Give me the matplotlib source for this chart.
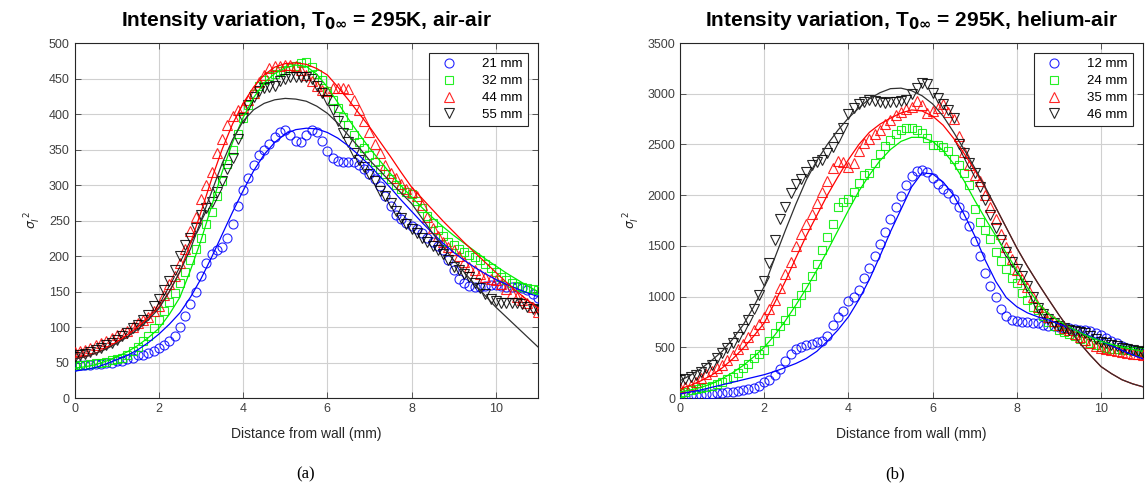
import matplotlib
matplotlib.use('Agg')
import matplotlib.pyplot as plt
import numpy as np

# measurement grid (mm from wall) and grid for the fitted curves
dist = np.arange(89) * 0.125
dist_fit = np.arange(45) * 0.25

# air-air, intensity variance per station
air_21 = [45, 46, 47, 47, 48, 48, 49, 50,
          52, 52, 55, 57, 60, 61, 63, 66,
          70, 75, 80, 88, 100, 115, 132, 150,
          172, 190, 203, 208, 212, 225, 245, 270,
          293, 310, 328, 342, 350, 358, 368, 375,
          377, 370, 362, 360, 370, 377, 375, 362,
          348, 338, 334, 332, 333, 332, 328, 322,
          315, 308, 298, 285, 270, 258, 252, 246,
          242, 238, 232, 226, 220, 214, 208, 195,
          180, 168, 162, 158, 156, 157, 158, 159,
          159, 158, 157, 156, 156, 155, 152, 146,
          141]
air_32 = [45, 46, 47, 48, 49, 50, 51, 53,
          55, 57, 60, 66, 72, 80, 88, 98,
          110, 122, 135, 148, 162, 178, 194, 210,
          225, 245, 262, 285, 305, 330, 350, 372,
          394, 412, 428, 440, 448, 453, 457, 460,
          462, 465, 468, 472, 473, 466, 456, 448,
          432, 420, 408, 396, 385, 370, 360, 352,
          342, 332, 322, 316, 308, 300, 294, 290,
          287, 278, 268, 256, 246, 237, 228, 220,
          215, 210, 206, 202, 198, 194, 189, 183,
          177, 171, 166, 162, 158, 156, 155, 154,
          152]
air_44 = [65, 66, 68, 70, 74, 77, 80, 85,
          89, 92, 95, 100, 105, 110, 114, 122,
          130, 145, 160, 172, 190, 210, 235, 255,
          280, 300, 318, 345, 365, 385, 397, 405,
          410, 420, 430, 445, 455, 465, 468, 468,
          469, 469, 468, 462, 455, 446, 440, 434,
          432, 436, 437, 437, 435, 420, 405, 390,
          375, 358, 345, 328, 317, 310, 302, 295,
          290, 285, 272, 255, 240, 228, 220, 212,
          208, 200, 192, 185, 180, 175, 171, 168,
          166, 160, 154, 148, 142, 138, 134, 128,
          121]
air_55 = [58, 60, 62, 65, 68, 71, 74, 78,
          82, 87, 92, 98, 103, 110, 117, 130,
          140, 152, 165, 180, 200, 215, 225, 240,
          258, 268, 276, 290, 305, 322, 338, 365,
          394, 412, 424, 432, 436, 438, 440, 446,
          450, 452, 452, 452, 452, 450, 440, 430,
          420, 405, 390, 373, 360, 345, 335, 325,
          315, 305, 292, 285, 275, 263, 254, 245,
          238, 232, 226, 220, 214, 208, 203, 195,
          185, 180, 175, 170, 162, 155, 147, 140,
          136, 134, 134, 134, 134, 132, 128, 126,
          124]

# air-air, fitted curves
air_21_fit = [38, 40, 43, 48, 54, 60, 68, 78, 90, 104, 120, 142, 168, 198, 230,
              262, 292, 320, 343, 360, 372, 378, 380, 379, 374, 366, 355, 342,
              328, 312, 296, 279, 263, 247, 232, 218, 205, 194, 184, 175, 167,
              160, 154, 148, 143]
air_32_fit = [42, 44, 47, 52, 58, 65, 74, 85, 98, 118, 142, 180, 222, 270, 318,
              360, 395, 423, 444, 457, 465, 469, 467, 456, 438, 416, 393, 372,
              352, 334, 316, 299, 283, 268, 254, 241, 229, 218, 207, 196, 186,
              176, 167, 158, 150]
air_44_fit = [55, 58, 63, 70, 79, 89, 100, 113, 128, 150, 178, 218, 262, 308, 350,
              386, 415, 438, 455, 466, 471, 472, 470, 464, 455, 438, 420, 401,
              382, 361, 340, 318, 297, 281, 265, 249, 234, 219, 205, 191, 177,
              163, 150, 138, 127]
air_55_fit = [55, 58, 63, 69, 77, 86, 97, 110, 126, 150, 178, 210, 250, 290, 330,
              364, 390, 406, 415, 420, 422, 421, 418, 411, 401, 387, 370, 353,
              335, 320, 304, 289, 274, 253, 232, 213, 194, 177, 160, 144, 128,
              114, 100, 86, 72]

# helium-air, intensity variance per station
he_12 = [20, 22, 25, 28, 32, 36, 40, 45,
         50, 55, 62, 70, 80, 90, 100, 115,
         160, 180, 230, 290, 360, 430, 480, 505,
         522, 535, 548, 560, 610, 720, 800, 860,
         960, 1000, 1060, 1180, 1280, 1400, 1520, 1640,
         1760, 1880, 1990, 2100, 2190, 2240, 2250, 2230,
         2170, 2110, 2060, 2020, 1960, 1880, 1800, 1700,
         1550, 1400, 1230, 1100, 1000, 880, 810, 770,
         755, 750, 745, 740, 735, 720, 710, 705,
         700, 695, 690, 685, 675, 670, 660, 640,
         620, 590, 565, 540, 515, 495, 470, 455,
         440]
he_24 = [50, 60, 75, 85, 95, 105, 120, 140,
         160, 185, 210, 250, 295, 340, 394, 430,
         473, 560, 640, 710, 770, 860, 940, 1020,
         1094, 1200, 1320, 1460, 1590, 1720, 1880, 1930,
         1960, 2030, 2120, 2200, 2220, 2320, 2410, 2480,
         2544, 2600, 2640, 2660, 2660, 2640, 2610, 2560,
         2495, 2495, 2470, 2440, 2360, 2300, 2220, 2100,
         1860, 1740, 1656, 1570, 1440, 1350, 1270, 1180,
         1134, 1040, 966, 900, 868, 810, 750, 710,
         670, 650, 630, 610, 580, 560, 540, 520,
         503, 495, 488, 480, 475, 470, 465, 460,
         455]
he_35 = [100, 110, 130, 160, 200, 240, 265, 300,
         325, 370, 424, 480, 530, 600, 670, 730,
         800, 880, 966, 1080, 1220, 1340, 1500, 1620,
         1720, 1810, 1920, 2030, 2140, 2270, 2340, 2330,
         2280, 2320, 2440, 2510, 2550, 2600, 2640, 2700,
         2740, 2790, 2820, 2850, 2870, 2930, 2890, 2810,
         2830, 2860, 2900, 2820, 2750, 2580, 2430, 2300,
         2200, 2140, 2000, 1880, 1760, 1620, 1490, 1370,
         1262, 1170, 1094, 1000, 897, 850, 800, 760,
         720, 690, 670, 630, 600, 570, 540, 515,
         493, 480, 470, 460, 454, 445, 435, 430,
         424]
he_46 = [177, 190, 207, 230, 260, 296, 330, 390,
         444, 490, 540, 600, 680, 769, 880, 1020,
         1150, 1330, 1560, 1760, 1880, 2020, 2110, 2160,
         2230, 2300, 2330, 2350, 2420, 2470, 2560, 2660,
         2800, 2860, 2900, 2920, 2940, 2930, 2920, 2910,
         2920, 2920, 2930, 2940, 3000, 3060, 3106, 3100,
         3010, 2960, 2900, 2840, 2760, 2500, 2420, 2320,
         2220, 2080, 1950, 1800, 1680, 1560, 1440, 1340,
         1270, 1200, 1100, 1000, 890, 830, 780, 740,
         710, 690, 670, 660, 650, 640, 610, 580,
         552, 540, 525, 510, 495, 480, 470, 460,
         454]

# helium-air, fitted curves
he_12_fit = [40, 60, 80, 105, 130, 155, 180, 205, 230, 262, 300, 340, 390, 460,
             560, 670, 800, 970, 1170, 1400, 1640, 1860, 2080, 2220, 2210, 2130,
             2000, 1810, 1600, 1360, 1150, 990, 900, 840, 800, 770, 730, 690,
             650, 605, 560, 515, 470, 425, 385]
he_24_fit = [60, 80, 105, 140, 190, 250, 320, 405, 500, 620, 760, 915, 1080, 1260,
             1450, 1650, 1850, 2040, 2200, 2340, 2450, 2530, 2570, 2570, 2530,
             2440, 2310, 2140, 1950, 1770, 1600, 1430, 1260, 1090, 940, 830, 760,
             700, 645, 600, 560, 530, 500, 480, 460]
he_35_fit = [90, 125, 170, 225, 296, 385, 490, 610, 740, 940, 1150, 1380, 1600,
             1800, 2000, 2180, 2350, 2500, 2620, 2700, 2760, 2810, 2840, 2830,
             2780, 2690, 2560, 2410, 2250, 2070, 1880, 1680, 1480, 1300, 1134,
             975, 820, 675, 540, 420, 310, 240, 180, 140, 110]
he_46_fit = [170, 225, 290, 370, 460, 580, 720, 900, 1100, 1380, 1650, 1910, 2150,
             2340, 2500, 2640, 2760, 2860, 2950, 3010, 3050, 3055, 3030, 2980,
             2900, 2780, 2620, 2450, 2270, 2080, 1880, 1680, 1480, 1300, 1134,
             975, 820, 675, 540, 420, 310, 240, 180, 140, 110]

air_labels = ['21 mm', '32 mm', '44 mm', '55 mm']
he_labels = ['12 mm', '24 mm', '35 mm', '46 mm']

colors = ['#0000ff', '#00ee00', '#ff0000', '#000000']
fit_colors = ['#0000ff', '#00ee00', '#ff0000', '#303030']
markers = ['o', 's', '^', 'v']
msizes = [6.5, 5.5, 7, 7]

plt.rcParams['font.family'] = ['Liberation Sans', 'DejaVu Sans']
plt.rcParams['mathtext.fontset'] = 'dejavusans'


def draw_panel(ax, series, fits, labels, ymax, ystep, title):
    handles = []
    for k in range(4):
        h, = ax.plot(dist, series[k], linestyle='none', marker=markers[k],
                     ms=msizes[k], mfc='none', mec=colors[k], mew=0.8,
                     alpha=0.85, label=labels[k], zorder=3)
        handles.append(h)
    for k in range(4):
        ax.plot(dist_fit, fits[k], color=fit_colors[k], lw=0.9, zorder=4)

    ax.set_xlim(0, 11)
    ax.set_ylim(0, ymax)
    ax.set_xticks(np.arange(0, 11, 2))
    ax.set_yticks(np.arange(0, ymax + 1, ystep))
    ax.grid(True, color='#d0d0d0', lw=0.8)
    ax.set_axisbelow(True)
    ax.tick_params(direction='in', length=4, width=0.6, colors='#404040',
                   labelsize=9, top=True, right=True)
    for sp in ax.spines.values():
        sp.set_color('#262626')
        sp.set_linewidth(0.8)

    ax.set_xlabel('Distance from wall (mm)', fontsize=10, color='#262626',
                  labelpad=9)
    ax.set_ylabel(r'$\sigma_I^{\ 2}$', fontsize=9, color='#262626', labelpad=4)
    ax.set_title(title, fontsize=15, fontweight='bold', pad=12)

    leg = ax.legend(handles=handles, loc='upper right',
                    bbox_to_anchor=(0.978, 0.972), borderaxespad=0,
                    fancybox=False, framealpha=1, edgecolor='#262626',
                    fontsize=9.5, handlelength=2.2, handletextpad=1.4,
                    labelspacing=0.35, borderpad=0.4)
    leg.get_frame().set_linewidth(0.8)


fig = plt.figure(figsize=(11.45, 4.91), dpi=100)
ax1 = fig.add_axes([0.0652, 0.1894, 0.4046, 0.723])
ax2 = fig.add_axes([0.5939, 0.1894, 0.4044, 0.723])

draw_panel(ax1, [air_21, air_32, air_44, air_55],
           [air_21_fit, air_32_fit, air_44_fit, air_55_fit],
           air_labels, 500, 50,
           r'Intensity variation, T$_{\mathbf{0\infty}}$ = 295K, air-air')
draw_panel(ax2, [he_12, he_24, he_35, he_46],
           [he_12_fit, he_24_fit, he_35_fit, he_46_fit],
           he_labels, 3500, 500,
           r'Intensity variation, T$_{\mathbf{0\infty}}$ = 295K, helium-air')

fig.text(0.267, 0.025, '(a)', fontsize=12, family='Liberation Serif', ha='center')
fig.text(0.782, 0.025, '(b)', fontsize=12, family='Liberation Serif', ha='center')

fig.savefig('out.png', dpi=100)
